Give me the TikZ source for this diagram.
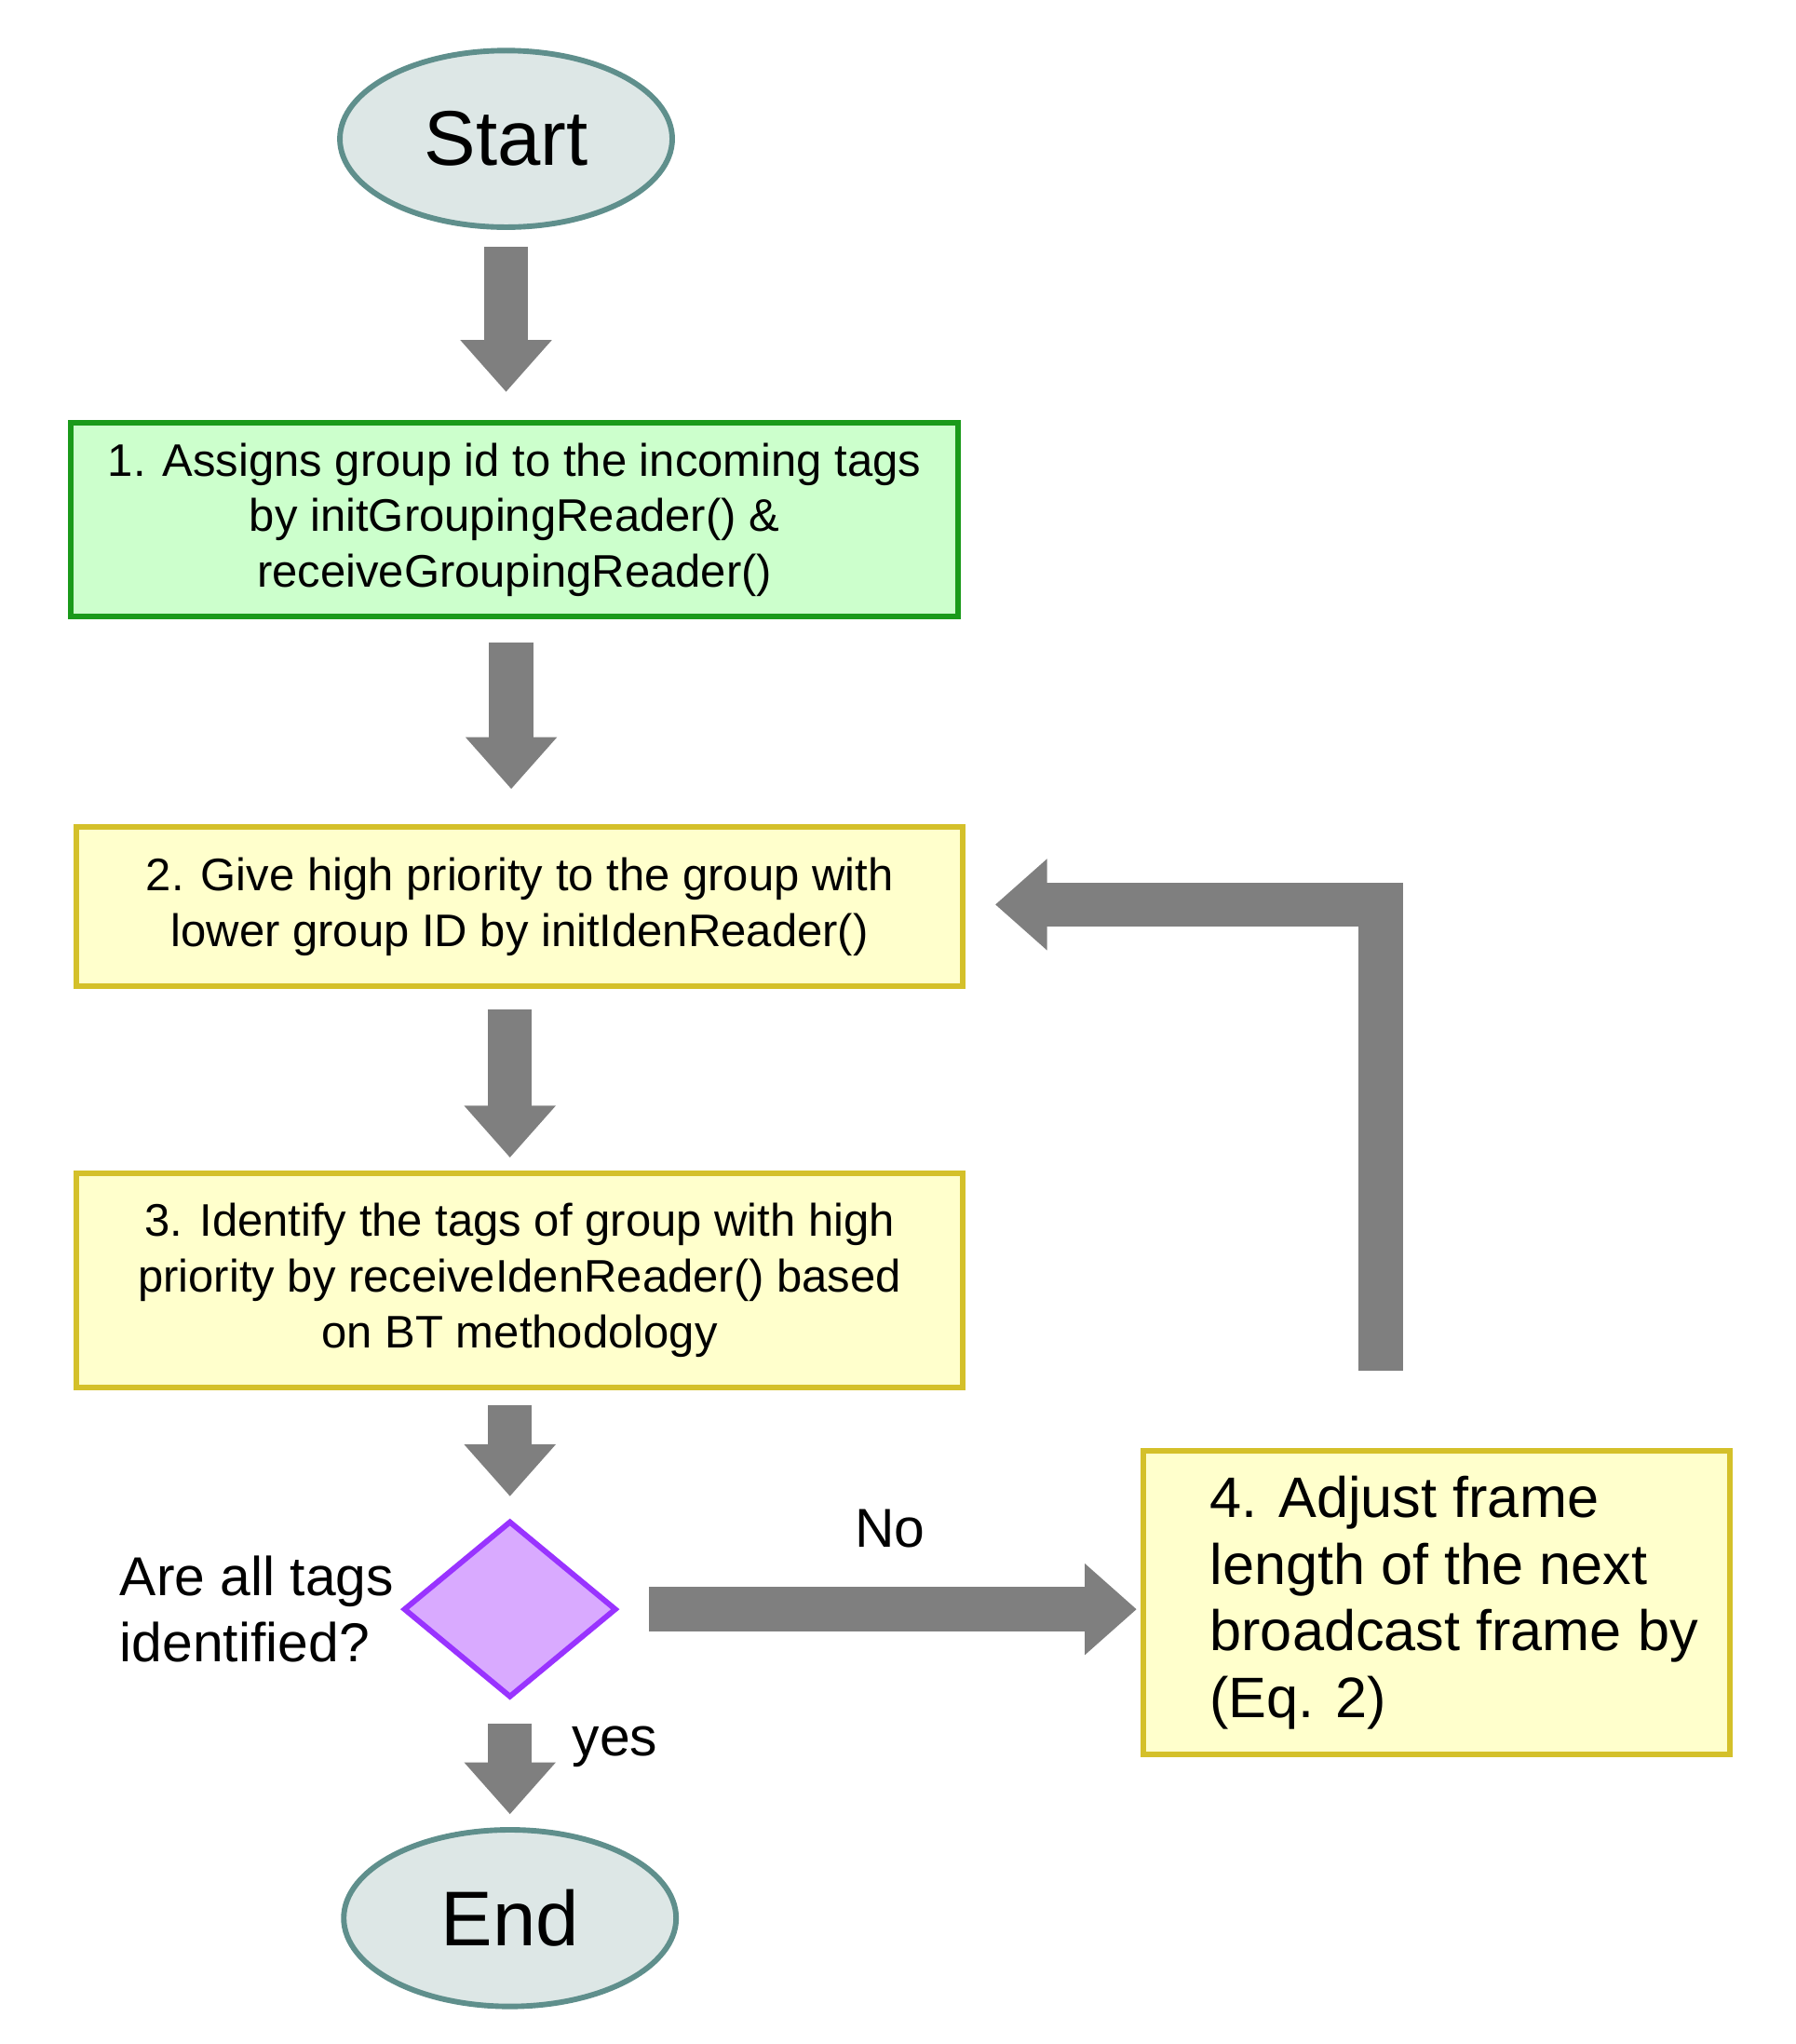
\documentclass[tikz,border=0pt]{standalone}
\usepackage{fontspec}
\setmainfont{Liberation Sans}
\usetikzlibrary{arrows.meta,shapes.geometric}
\definecolor{ellfill}{HTML}{DDE7E6}
\definecolor{ellline}{HTML}{5F8F8C}
\definecolor{gfill}{HTML}{CCFFCC}
\definecolor{gline}{HTML}{1A9A1A}
\definecolor{yfill}{HTML}{FFFFCC}
\definecolor{yline}{HTML}{D4C02A}
\definecolor{dfill}{HTML}{D9AAFF}
\definecolor{dline}{HTML}{9933FF}
\definecolor{arr}{HTML}{7F7F7F}
\begin{document}
\begin{tikzpicture}[x=0.01cm,y=-0.01cm,
  ell/.style={ellipse,draw=ellline,fill=ellfill,line width=1.2pt,minimum width=2.56cm,minimum height=1.36cm,font=\fontsize{17}{20}\selectfont},
  gbox/.style={rectangle,draw=gline,fill=gfill,line width=1.2pt,align=center,font=\fontsize{10}{12.2}\selectfont},
  ybox/.style={rectangle,draw=yline,fill=yfill,line width=1.2pt,align=center,font=\fontsize{10}{12.2}\selectfont},
  blk/.style={draw=arr,line width=0.34cm,-{Triangle[length=0.4cm,width=0.68cm]}},
  lbl/.style={font=\fontsize{12}{14.5}\selectfont}]
\useasboundingbox (0,0) rectangle (1384,1575);
\node[ell] (start) at (390,107) {Start};
\node[gbox,minimum width=6.83cm,minimum height=1.49cm] (b1) at (396.5,400.5) {1. Assigns group id to the incoming tags\\by initGroupingReader() \&\\receiveGroupingReader()};
\node[ybox,minimum width=6.83cm,minimum height=1.23cm] (b2) at (400.5,698.5) {2. Give high priority to the group with\\lower group ID by initIdenReader()};
\node[ybox,minimum width=6.83cm,minimum height=1.65cm] (b3) at (400.5,986.5) {3. Identify the tags of group with high\\priority by receiveIdenReader() based\\on BT methodology};
\node[diamond,draw=dline,fill=dfill,line width=1.2pt,minimum width=1.64cm,minimum height=1.36cm,inner sep=0pt] (d) at (393,1240) {};
\node[lbl,align=left,anchor=west] (q) at (80,1240) {Are all tags\\identified?};
\node[ybox,minimum width=4.52cm,minimum height=2.34cm] (b4) at (1107,1235) {};
\node[lbl,align=left,anchor=north west,font=\fontsize{12.5}{14.6}\selectfont] (b4t) at (920,1125) {4. Adjust frame\\length of the next\\broadcast frame by\\(Eq. 2)};
\node[ell] (end) at (393,1478) {End};
\node[lbl] (no) at (686,1178) {No};
\node[lbl] (yes) at (474,1346) {yes};
\coordinate (a1s) at (390,190); \coordinate (a1e) at (390,302);
\coordinate (a2s) at (394,495); \coordinate (a2e) at (394,608);
\coordinate (a3s) at (393,778); \coordinate (a3e) at (393,892);
\coordinate (a4s) at (393,1083); \coordinate (a4e) at (393,1153);
\coordinate (a5s) at (500,1240); \coordinate (a5e) at (876,1240);
\coordinate (a6s) at (393,1328); \coordinate (a6e) at (393,1398);
\coordinate (l1) at (1064,1056); \coordinate (l2) at (767,697);
\draw[blk] (a1s) -- (a1e);
\draw[blk] (a2s) -- (a2e);
\draw[blk] (a3s) -- (a3e);
\draw[blk] (a4s) -- (a4e);
\draw[blk] (a5s) -- (a5e);
\draw[blk] (a6s) -- (a6e);
\draw[blk,line join=miter] (l1) |- (l2);
\end{tikzpicture}
\end{document}
